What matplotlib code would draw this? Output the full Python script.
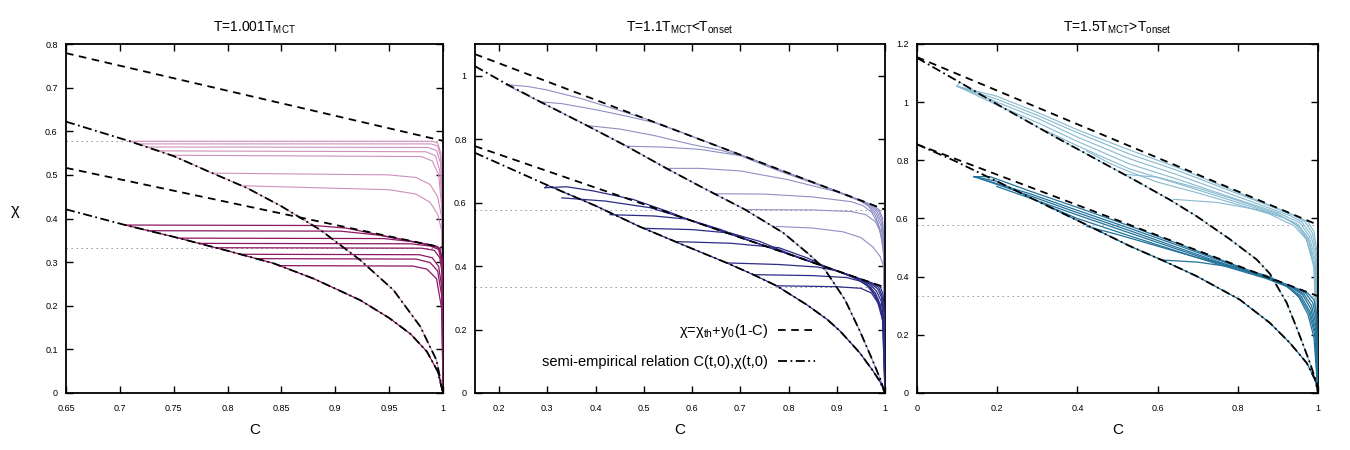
import matplotlib.pyplot as plt

plt.rcParams['font.family'] = ['Liberation Sans', 'DejaVu Sans']
plt.rcParams['mathtext.fontset'] = 'custom'
plt.rcParams['mathtext.rm'] = 'Liberation Sans'
plt.rcParams['mathtext.default'] = 'regular'
plt.rcParams['lines.scale_dashes'] = False

## niveaux en pointillés (chi_th des deux familles)
levels = [0.577, 0.333]

## ---- panneau 1 : T = 1.001 T_MCT ----
p1_title = 'T=1.001T$_{MCT}$'
p1_xlim = (0.65, 1.0)
p1_ylim = (0.0, 0.8)
p1_xticks = [0.65, 0.7, 0.75, 0.8, 0.85, 0.9, 0.95, 1]
p1_yticks = [0, 0.1, 0.2, 0.3, 0.4, 0.5, 0.6, 0.7, 0.8]
p1_dashed = [[(0.65, 0.779), (1.0, 0.578)],
             [(0.65, 0.516), (1.0, 0.333)]]
p1_dd_hi = [(0.65, 0.622), (0.708, 0.578), (0.75, 0.543), (0.784, 0.506), (0.818, 0.470), (0.85, 0.428),
            (0.886, 0.374), (0.923, 0.305), (0.954, 0.236), (0.979, 0.152), (0.994, 0.075), (1.0, 0.0)]
p1_dd_lo = [(0.65, 0.421), (0.705, 0.385), (0.75, 0.358), (0.80, 0.326), (0.843, 0.297), (0.88, 0.262),
            (0.923, 0.213), (0.95, 0.172), (0.97, 0.135), (0.985, 0.095), (0.995, 0.05), (1.0, 0.0)]
p1_start = [(0.709, 0.578), (0.705, 0.385)]
p1_light = [
    [(0.709, 0.577), (0.99, 0.577), (0.995, 0.573), (0.998, 0.55), (0.9995, 0.45), (1.0, 0.0)],
    [(0.716, 0.571), (0.989, 0.571), (0.995, 0.566), (0.998, 0.54), (0.9995, 0.44), (1.0, 0.0)],
    [(0.725, 0.564), (0.986, 0.563), (0.994, 0.556), (0.998, 0.525), (0.9995, 0.43), (1.0, 0.0)],
    [(0.737, 0.555), (0.984, 0.553), (0.993, 0.544), (0.997, 0.51), (0.9995, 0.42), (1.0, 0.0)],
    [(0.748, 0.545), (0.98, 0.542), (0.99, 0.532), (0.996, 0.50), (0.999, 0.42), (1.0, 0.0)],
    [(0.786, 0.504), (0.95, 0.50), (0.975, 0.494), (0.988, 0.478), (0.995, 0.45), (0.999, 0.40), (1.0, 0.0)],
    [(0.815, 0.475), (0.95, 0.466), (0.975, 0.456), (0.988, 0.437), (0.995, 0.41), (0.999, 0.37), (1.0, 0.0)],
]
p1_dark = [
    [(0.705, 0.385), (0.88, 0.384), (0.91, 0.378), (0.95, 0.358), (0.98, 0.343), (0.995, 0.336), (0.999, 0.31), (1.0, 0.0)],
    [(0.727, 0.372), (0.905, 0.371), (0.94, 0.362), (0.97, 0.348), (0.99, 0.338), (0.997, 0.332), (0.9995, 0.30), (1.0, 0.0)],
    [(0.755, 0.355), (0.945, 0.354), (0.975, 0.346), (0.99, 0.339), (0.997, 0.331), (0.9995, 0.30), (1.0, 0.0)],
    [(0.773, 0.343), (0.97, 0.342), (0.988, 0.337), (0.996, 0.329), (0.9995, 0.29), (1.0, 0.0)],
    [(0.789, 0.333), (0.98, 0.332), (0.992, 0.327), (0.997, 0.31), (0.9995, 0.27), (1.0, 0.0)],
    [(0.812, 0.318), (0.978, 0.317), (0.99, 0.31), (0.996, 0.29), (0.999, 0.24), (1.0, 0.0)],
    [(0.827, 0.308), (0.975, 0.307), (0.988, 0.299), (0.995, 0.28), (0.999, 0.22), (1.0, 0.0)],
    [(0.848, 0.292), (0.972, 0.291), (0.985, 0.284), (0.994, 0.262), (0.999, 0.19), (1.0, 0.0)],
]

## ---- panneau 2 : T = 1.1 T_MCT < T_onset ----
p2_title = 'T=1.1T$_{MCT}$<T$_{onset}$'
p2_xlim = (0.15, 1.0)
p2_ylim = (0.0, 1.1)
p2_xticks = [0.2, 0.3, 0.4, 0.5, 0.6, 0.7, 0.8, 0.9, 1]
p2_yticks = [0, 0.2, 0.4, 0.6, 0.8, 1]
p2_dashed = [[(0.15, 1.068), (1.0, 0.578)],
             [(0.15, 0.778), (1.0, 0.333)]]
p2_dd_hi = [(0.15, 1.030), (0.214, 0.975), (0.285, 0.918), (0.382, 0.843), (0.464, 0.778), (0.547, 0.708),
            (0.616, 0.652), (0.71, 0.578), (0.789, 0.505), (0.844, 0.435), (0.875, 0.39), (0.917, 0.294),
            (0.948, 0.195), (0.975, 0.10), (0.99, 0.045), (1.0, 0.0)]
p2_dd_lo = [(0.15, 0.757), (0.30, 0.655), (0.40, 0.590), (0.492, 0.524), (0.589, 0.462), (0.672, 0.41),
            (0.727, 0.373), (0.775, 0.338), (0.838, 0.278), (0.88, 0.232), (0.907, 0.195), (0.948, 0.126),
            (0.975, 0.07), (0.99, 0.035), (1.0, 0.0)]
p2_start = [(0.214, 0.972), (0.295, 0.647)]
p2_light = [
    [(0.214, 0.972), (0.26, 0.966), (0.30, 0.955), (0.37, 0.928), (0.44, 0.895), (0.50, 0.866), (0.55, 0.838),
     (0.60, 0.809), (0.70, 0.751), (0.80, 0.693), (0.90, 0.636), (0.95, 0.607), (0.975, 0.592), (0.988, 0.578),
     (0.995, 0.55), (0.999, 0.46), (1.0, 0.0)],
    [(0.285, 0.918), (0.33, 0.912), (0.40, 0.893), (0.46, 0.874), (0.52, 0.853), (0.58, 0.82), (0.70, 0.751),
     (0.80, 0.693), (0.90, 0.636), (0.95, 0.607), (0.972, 0.593), (0.986, 0.575), (0.994, 0.545), (0.999, 0.45), (1.0, 0.0)],
    [(0.382, 0.843), (0.45, 0.832), (0.52, 0.812), (0.60, 0.783), (0.66, 0.765), (0.72, 0.74), (0.78, 0.703),
     (0.80, 0.693), (0.90, 0.636), (0.95, 0.606), (0.97, 0.592), (0.984, 0.57), (0.993, 0.535), (0.998, 0.45), (1.0, 0.0)],
    [(0.464, 0.778), (0.54, 0.775), (0.616, 0.768), (0.70, 0.748), (0.78, 0.70), (0.85, 0.662), (0.90, 0.635),
     (0.95, 0.605), (0.968, 0.59), (0.982, 0.565), (0.992, 0.525), (0.998, 0.44), (1.0, 0.0)],
    [(0.547, 0.708), (0.616, 0.708), (0.70, 0.70), (0.80, 0.672), (0.90, 0.634), (0.95, 0.604), (0.966, 0.588),
     (0.98, 0.56), (0.99, 0.515), (0.997, 0.44), (1.0, 0.0)],
    [(0.645, 0.628), (0.75, 0.627), (0.85, 0.618), (0.93, 0.603), (0.955, 0.59), (0.972, 0.57), (0.985, 0.535),
     (0.994, 0.48), (0.998, 0.42), (1.0, 0.0)],
    [(0.71, 0.578), (0.85, 0.577), (0.93, 0.572), (0.96, 0.562), (0.98, 0.54), (0.99, 0.51), (0.997, 0.46), (1.0, 0.0)],
    [(0.775, 0.525), (0.85, 0.52), (0.913, 0.508), (0.95, 0.49), (0.975, 0.46), (0.99, 0.43), (0.997, 0.40), (1.0, 0.0)],
]
p2_dark = [
    [(0.295, 0.647), (0.34, 0.650), (0.395, 0.637), (0.478, 0.61), (0.55, 0.572), (0.60, 0.542), (0.70, 0.49),
     (0.80, 0.438), (0.90, 0.385), (0.95, 0.359), (0.975, 0.346), (0.99, 0.336), (0.996, 0.31), (0.999, 0.25), (1.0, 0.0)],
    [(0.33, 0.615), (0.42, 0.605), (0.513, 0.584), (0.58, 0.553), (0.65, 0.516), (0.70, 0.49), (0.80, 0.438),
     (0.90, 0.385), (0.95, 0.359), (0.972, 0.346), (0.987, 0.333), (0.994, 0.305), (0.999, 0.24), (1.0, 0.0)],
    [(0.43, 0.562), (0.52, 0.558), (0.59, 0.548), (0.66, 0.515), (0.72, 0.48), (0.80, 0.438), (0.90, 0.385),
     (0.95, 0.358), (0.97, 0.345), (0.985, 0.328), (0.993, 0.30), (0.998, 0.23), (1.0, 0.0)],
    [(0.50, 0.519), (0.60, 0.515), (0.68, 0.504), (0.74, 0.478), (0.80, 0.44), (0.90, 0.385), (0.95, 0.357),
     (0.968, 0.343), (0.982, 0.322), (0.992, 0.29), (0.998, 0.22), (1.0, 0.0)],
    [(0.57, 0.477), (0.68, 0.472), (0.78, 0.458), (0.84, 0.425), (0.88, 0.396), (0.92, 0.375), (0.95, 0.356),
     (0.966, 0.34), (0.98, 0.315), (0.99, 0.28), (0.997, 0.22), (1.0, 0.0)],
    [(0.672, 0.41), (0.78, 0.405), (0.86, 0.397), (0.90, 0.385), (0.94, 0.36), (0.962, 0.34), (0.978, 0.31),
     (0.99, 0.27), (0.997, 0.21), (1.0, 0.0)],
    [(0.727, 0.373), (0.85, 0.37), (0.92, 0.364), (0.95, 0.352), (0.97, 0.33), (0.985, 0.295), (0.995, 0.24), (1.0, 0.0)],
    [(0.775, 0.338), (0.90, 0.335), (0.95, 0.33), (0.972, 0.315), (0.985, 0.285), (0.995, 0.23), (1.0, 0.0)],
]

## ---- panneau 3 : T = 1.5 T_MCT > T_onset ----
p3_title = 'T=1.5T$_{MCT}$>T$_{onset}$'
p3_xlim = (0.0, 1.0)
p3_ylim = (0.0, 1.2)
p3_xticks = [0, 0.2, 0.4, 0.6, 0.8, 1]
p3_yticks = [0, 0.2, 0.4, 0.6, 0.8, 1, 1.2]
p3_dashed = [[(0.0, 1.155), (1.0, 0.578)],
             [(0.0, 0.855), (1.0, 0.333)]]
p3_dd_hi = [(0.0, 1.152), (0.107, 1.068), (0.207, 0.987), (0.34, 0.884), (0.456, 0.797), (0.539, 0.735),
            (0.631, 0.664), (0.697, 0.608), (0.781, 0.528), (0.847, 0.459), (0.88, 0.41), (0.922, 0.31),
            (0.955, 0.195), (0.98, 0.103), (0.997, 0.034), (1.0, 0.0)]
p3_dd_lo = [(0.0, 0.855), (0.091, 0.800), (0.199, 0.728), (0.282, 0.672), (0.423, 0.578), (0.531, 0.505),
            (0.614, 0.455), (0.697, 0.402), (0.805, 0.321), (0.88, 0.241), (0.93, 0.172), (0.972, 0.103),
            (0.993, 0.045), (1.0, 0.0)]
p3_start = [(0.10, 1.055), (0.142, 0.744)]
p3_light = [
    [(0.10, 1.055), (0.20, 1.02), (0.30, 0.965), (0.40, 0.905), (0.531, 0.835), (0.65, 0.775), (0.80, 0.69),
     (0.90, 0.634), (0.95, 0.606), (0.975, 0.588), (0.99, 0.555), (0.997, 0.49), (1.0, 0.0)],
    [(0.10, 1.055), (0.20, 1.01), (0.30, 0.955), (0.40, 0.895), (0.531, 0.821), (0.65, 0.765), (0.80, 0.685),
     (0.90, 0.632), (0.94, 0.61), (0.968, 0.588), (0.986, 0.55), (0.996, 0.48), (1.0, 0.0)],
    [(0.10, 1.055), (0.20, 1.00), (0.30, 0.945), (0.40, 0.88), (0.531, 0.805), (0.65, 0.75), (0.80, 0.675),
     (0.90, 0.625), (0.93, 0.61), (0.96, 0.588), (0.982, 0.545), (0.995, 0.47), (1.0, 0.0)],
    [(0.10, 1.055), (0.20, 0.99), (0.30, 0.93), (0.40, 0.865), (0.531, 0.787), (0.65, 0.735), (0.80, 0.665),
     (0.90, 0.62), (0.955, 0.585), (0.978, 0.54), (0.993, 0.46), (1.0, 0.0)],
    [(0.323, 0.901), (0.40, 0.85), (0.531, 0.77), (0.65, 0.72), (0.80, 0.655), (0.90, 0.612), (0.95, 0.58),
     (0.975, 0.535), (0.992, 0.45), (1.0, 0.0)],
    [(0.423, 0.832), (0.48, 0.79), (0.531, 0.760), (0.60, 0.725), (0.70, 0.688), (0.80, 0.648), (0.88, 0.615),
     (0.94, 0.575), (0.97, 0.53), (0.99, 0.44), (1.0, 0.0)],
    [(0.515, 0.752), (0.60, 0.742), (0.70, 0.705), (0.80, 0.662), (0.90, 0.615), (0.945, 0.578), (0.972, 0.53),
     (0.99, 0.43), (1.0, 0.0)],
    [(0.639, 0.666), (0.75, 0.655), (0.85, 0.63), (0.92, 0.60), (0.955, 0.57), (0.978, 0.52), (0.992, 0.42), (1.0, 0.0)],
]
p3_dark = [
    [(0.142, 0.744), (0.182, 0.744), (0.282, 0.694), (0.40, 0.638), (0.531, 0.574), (0.65, 0.514), (0.75, 0.462),
     (0.87, 0.40), (0.95, 0.358), (0.975, 0.343), (0.99, 0.32), (0.997, 0.27), (1.0, 0.0)],
    [(0.142, 0.744), (0.282, 0.685), (0.40, 0.628), (0.531, 0.566), (0.65, 0.508), (0.75, 0.458), (0.87, 0.40),
     (0.94, 0.363), (0.97, 0.342), (0.987, 0.31), (0.996, 0.25), (1.0, 0.0)],
    [(0.142, 0.744), (0.282, 0.678), (0.40, 0.62), (0.531, 0.558), (0.65, 0.50), (0.75, 0.452), (0.87, 0.398),
     (0.93, 0.368), (0.965, 0.34), (0.984, 0.30), (0.995, 0.235), (1.0, 0.0)],
    [(0.199, 0.71), (0.282, 0.67), (0.40, 0.612), (0.531, 0.55), (0.65, 0.494), (0.75, 0.448), (0.87, 0.396),
     (0.93, 0.366), (0.962, 0.337), (0.982, 0.29), (0.994, 0.22), (1.0, 0.0)],
    [(0.323, 0.645), (0.40, 0.60), (0.531, 0.54), (0.65, 0.487), (0.75, 0.443), (0.87, 0.394), (0.925, 0.365),
     (0.958, 0.333), (0.98, 0.28), (0.993, 0.21), (1.0, 0.0)],
    [(0.423, 0.573), (0.50, 0.545), (0.60, 0.505), (0.70, 0.465), (0.80, 0.43), (0.87, 0.398), (0.92, 0.368),
     (0.955, 0.33), (0.978, 0.275), (0.992, 0.20), (1.0, 0.0)],
    [(0.614, 0.457), (0.70, 0.45), (0.80, 0.43), (0.87, 0.405), (0.92, 0.373), (0.952, 0.33), (0.975, 0.27),
     (0.99, 0.19), (1.0, 0.0)],
]

## couleurs (clair = famille haute, foncé = famille basse)
colors = [('#cf8fbd', '#8c1763'), ('#8f8fc6', '#2c2c86'), ('#86b9d0', '#23729a')]

panels = [
    (p1_title, p1_xlim, p1_ylim, p1_xticks, p1_yticks, p1_dashed, p1_dd_hi, p1_dd_lo, p1_start, p1_light, p1_dark),
    (p2_title, p2_xlim, p2_ylim, p2_xticks, p2_yticks, p2_dashed, p2_dd_hi, p2_dd_lo, p2_start, p2_light, p2_dark),
    (p3_title, p3_xlim, p3_ylim, p3_xticks, p3_yticks, p3_dashed, p3_dd_hi, p3_dd_lo, p3_start, p3_light, p3_dark),
]
# position des axes en pixels (gauche, droite) sur une figure de 1350x450
positions = [(66, 443), (475, 885), (917, 1318)]

DASH = (5.5, 4.0)
DASHDOT = (6.5, 2.5, 1.3, 2.5)


def xy(pts):
    return [p[0] for p in pts], [p[1] for p in pts]


def along(dd, start):
    '''courbe colorée qui suit la relation semi-empirique à partir du point de départ'''
    return [start] + [p for p in dd if p[0] > start[0]]


fig = plt.figure(figsize=(13.5, 4.5), dpi=100)
axes = []
for k, (title, xlim, ylim, xt, yt, dashed, dd_hi, dd_lo, start, light, dark) in enumerate(panels):
    left, right = positions[k]
    ax = fig.add_axes([left / 1350, 57 / 450, (right - left) / 1350, 349 / 450])
    axes.append(ax)
    c_light, c_dark = colors[k]

    for lv in levels:
        ax.axhline(lv, color='#8c8c8c', lw=0.7, dashes=(1, 2.6), zorder=1)

    for c in light + [along(dd_hi, start[0])]:
        x, y = xy(c)
        ax.plot(x, y, color=c_light, lw=0.8, zorder=2)
    for c in dark + [along(dd_lo, start[1])]:
        x, y = xy(c)
        ax.plot(x, y, color=c_dark, lw=0.9, zorder=3)

    for d in dashed:
        x, y = xy(d)
        h_dash, = ax.plot(x, y, color='black', lw=1.3, dashes=DASH, zorder=4)
    for d in (dd_hi, dd_lo):
        x, y = xy(d)
        h_dd, = ax.plot(x, y, color='black', lw=1.3, dashes=DASHDOT, zorder=4)

    ax.set_xlim(*xlim)
    ax.set_ylim(*ylim)
    ax.set_xticks(xt)
    ax.set_yticks(yt)
    ax.set_xticklabels(['%g' % v for v in xt])
    ax.set_yticklabels(['%g' % v for v in yt])
    ax.tick_params(direction='in', length=5, width=1, top=True, right=True, labelsize=6.5)
    ax.tick_params(axis='x', pad=8)
    ax.tick_params(axis='y', pad=6)
    for s in ax.spines.values():
        s.set_linewidth(1.3)
    ax.set_title(title, fontsize=10, pad=9)
    ax.set_xlabel('C', fontsize=11)
    ax.xaxis.set_label_coords(0.5, -0.085)

    if k == 1:
        ax.legend([h_dash, h_dd],
                  ['χ=χ$_{th}$+y$_0$(1-C)', 'semi-empirical relation C(t,0),χ(t,0)'],
                  loc='lower right', bbox_to_anchor=(0.861, 0.031), frameon=False,
                  markerfirst=False, fontsize=10.5, handlelength=2.5, handletextpad=0.7,
                  labelspacing=1.0)

axes[0].set_ylabel('χ', fontsize=12, rotation=0)
axes[0].yaxis.set_label_coords(-0.135, 0.5)

plt.savefig('out.png', dpi=100)
